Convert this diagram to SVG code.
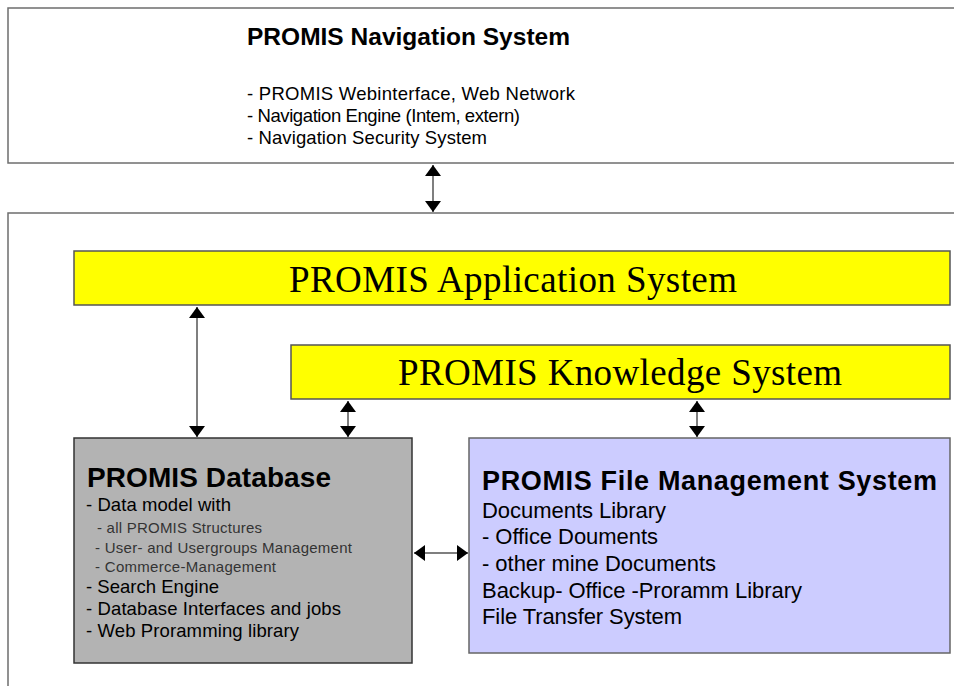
<svg xmlns="http://www.w3.org/2000/svg" width="954" height="686" viewBox="0 0 954 686">
<style>
  .frame { fill: #ffffff; stroke: #6e6e6e; stroke-width: 1.5; }
  .yellow { fill: #ffff00; stroke: #555555; stroke-width: 1.5; }
  .db { fill: #b3b3b3; stroke: #333333; stroke-width: 1.5; }
  .fms { fill: #ccccff; stroke: #666666; stroke-width: 1.5; }
  .sans { font-family: "Liberation Sans", Arial, sans-serif; fill: #000000; }
  .serif { font-family: "Liberation Serif", "Times New Roman", serif; fill: #000000; font-size: 37px; }
  .b { font-weight: bold; }
  .small { font-size: 15px; fill: #333333; }
  .conn { stroke: #555555; stroke-width: 1.5; fill: none; marker-start: url(#ah); marker-end: url(#ah); }
</style>
<defs>
  <marker id="ah" viewBox="0 0 11 16" refX="11" refY="8" markerWidth="11" markerHeight="16" markerUnits="userSpaceOnUse" orient="auto-start-reverse">
    <path d="M0,0 L11,8 L0,16 Z" fill="#000000"/>
  </marker>
</defs>
<rect width="954" height="686" fill="#ffffff"/>

<g id="navigation-system">
  <rect class="frame" x="8" y="8" width="960" height="155"/>
  <text class="sans b" x="247" y="45" font-size="24.5" textLength="323" lengthAdjust="spacing">PROMIS Navigation System</text>
  <text class="sans" x="247" y="100" font-size="18.5" textLength="328" lengthAdjust="spacing">- PROMIS Webinterface, Web Network</text>
  <text class="sans" x="247" y="122" font-size="18.5" textLength="273" lengthAdjust="spacing">- Navigation Engine (Intem, extern)</text>
  <text class="sans" x="247" y="144" font-size="18.5" textLength="240" lengthAdjust="spacing">- Navigation Security System</text>
</g>

<g id="core-frame">
  <rect class="frame" x="8" y="213" width="960" height="490"/>
</g>

<g id="application-system">
  <rect class="yellow" x="74" y="251" width="876" height="54"/>
  <text class="serif" x="289" y="292" textLength="448" lengthAdjust="spacing">PROMIS Application System</text>
</g>

<g id="knowledge-system">
  <rect class="yellow" x="291" y="345" width="659" height="54"/>
  <text class="serif" x="398" y="385" textLength="444" lengthAdjust="spacing">PROMIS Knowledge System</text>
</g>

<g id="database">
  <rect class="db" x="74" y="438" width="338" height="225"/>
  <text class="sans b" x="87" y="487" font-size="28" textLength="244" lengthAdjust="spacing">PROMIS Database</text>
  <text class="sans" x="86" y="511" font-size="18.5" textLength="145" lengthAdjust="spacing">- Data model with</text>
  <text class="sans small" x="97" y="533" textLength="165" lengthAdjust="spacing">- all PROMIS Structures</text>
  <text class="sans small" x="95" y="553" textLength="257" lengthAdjust="spacing">- User- and Usergroups Management</text>
  <text class="sans small" x="95" y="572" textLength="181" lengthAdjust="spacing">- Commerce-Management</text>
  <text class="sans" x="86" y="593" font-size="18.5" textLength="133" lengthAdjust="spacing">- Search Engine</text>
  <text class="sans" x="86" y="615" font-size="18.5" textLength="255" lengthAdjust="spacing">- Database Interfaces and jobs</text>
  <text class="sans" x="86" y="637" font-size="18.5" textLength="213" lengthAdjust="spacing">- Web Proramming library</text>
</g>

<g id="file-management-system">
  <rect class="fms" x="469" y="438" width="481" height="215"/>
  <text class="sans b" x="482" y="490" font-size="27" textLength="455" lengthAdjust="spacing">PROMIS File Management System</text>
  <text class="sans" x="482" y="518" font-size="22" textLength="184" lengthAdjust="spacing">Documents Library</text>
  <text class="sans" x="482" y="544" font-size="22" textLength="176" lengthAdjust="spacing">- Office Douments</text>
  <text class="sans" x="482" y="571" font-size="22" textLength="234" lengthAdjust="spacing">- other mine Documents</text>
  <text class="sans" x="482" y="598" font-size="22" textLength="320" lengthAdjust="spacing">Backup- Office -Proramm Library</text>
  <text class="sans" x="482" y="624" font-size="22" textLength="200" lengthAdjust="spacing">File Transfer System</text>
</g>

<g id="connectors">
  <line class="conn" x1="433" y1="165" x2="433" y2="212"/>
  <line class="conn" x1="197" y1="307" x2="197" y2="437"/>
  <line class="conn" x1="348" y1="401" x2="348" y2="437"/>
  <line class="conn" x1="697" y1="401" x2="697" y2="437"/>
  <line class="conn" x1="414" y1="553" x2="468" y2="553"/>
</g>
</svg>
